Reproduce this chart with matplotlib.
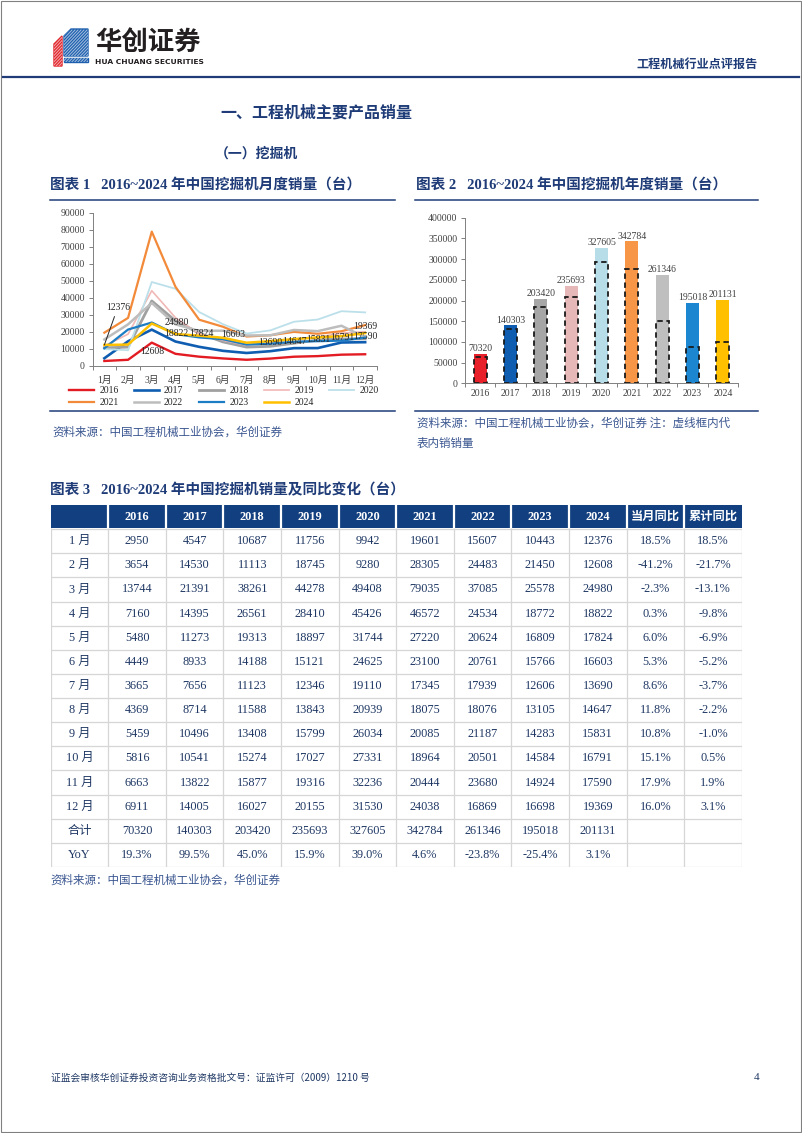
import matplotlib
matplotlib.use('Agg')
import matplotlib.pyplot as plt
from matplotlib.patches import Rectangle, Polygon
import numpy as np

SERIF = ['Liberation Serif', 'Noto Sans CJK SC']
CJK = ['Noto Sans CJK SC', 'DejaVu Sans']
NAVY = '#1F3C78'
TXT = '#1F3864'
SRC = '#3A5690'
HEAD = '#123F7F'

# ---------------- data ----------------
years = ['2016', '2017', '2018', '2019', '2020', '2021', '2022', '2023', '2024']
months = ['1月', '2月', '3月', '4月', '5月', '6月', '7月', '8月', '9月', '10月', '11月', '12月']

sales_2016 = [2950, 3654, 13744, 7160, 5480, 4449, 3665, 4369, 5459, 5816, 6663, 6911]
sales_2017 = [4547, 14530, 21391, 14395, 11273, 8933, 7656, 8714, 10496, 10541, 13822, 14005]
sales_2018 = [10687, 11113, 38261, 26561, 19313, 14188, 11123, 11588, 13408, 15274, 15877, 16027]
sales_2019 = [11756, 18745, 44278, 28410, 18897, 15121, 12346, 13843, 15799, 17027, 19316, 20155]
sales_2020 = [9942, 9280, 49408, 45426, 31744, 24625, 19110, 20939, 26034, 27331, 32236, 31530]
sales_2021 = [19601, 28305, 79035, 46572, 27220, 23100, 17345, 18075, 20085, 18964, 20444, 24038]
sales_2022 = [15607, 24483, 37085, 24534, 20624, 20761, 17939, 18076, 21187, 20501, 23680, 16869]
sales_2023 = [10443, 21450, 25578, 18772, 16809, 15766, 12606, 13105, 14283, 14584, 14924, 16698]
sales_2024 = [12376, 12608, 24980, 18822, 17824, 16603, 13690, 14647, 15831, 16791, 17590, 19369]
monthly = [sales_2016, sales_2017, sales_2018, sales_2019, sales_2020,
           sales_2021, sales_2022, sales_2023, sales_2024]

totals = [70320, 140303, 203420, 235693, 327605, 342784, 261346, 195018, 201131]
domestic = [62800, 132000, 185000, 209000, 292000, 275000, 150500, 88500, 99000]
yoy_year = [19.3, 99.5, 45.0, 15.9, 39.0, 4.6, -23.8, -25.4, 3.1]
yoy_month = [18.5, -41.2, -2.3, 0.3, 6.0, 5.3, 8.6, 11.8, 10.8, 15.1, 17.9, 16.0]
yoy_cum = [18.5, -21.7, -13.1, -9.8, -6.9, -5.2, -3.7, -2.2, -1.0, 0.5, 1.9, 3.1]

line_colors = ['#E31B23', '#0F5DB0', '#A0A0A0', '#F0B8B6', '#BCE0EA',
               '#F28A3A', '#BDBDBD', '#1C7CC4', '#FFC000']
line_widths = [1.7, 1.9, 2.0, 1.2, 1.3, 1.6, 1.8, 1.6, 1.8]
bar_colors = ['#E8202A', '#0F5DB0', '#A6A6A6', '#E6B9B8', '#B7DEE8',
              '#F79646', '#BFBFBF', '#1C86D1', '#FFC000']

# label offsets (px right, px up) and alignment for the 2024 monthly labels
label_style = [((14, 37), 'center'), ((24, -7), 'center'), ((25, 1), 'center'),
               ((1, 1), 'center'), ((2, 2), 'center'), ((10, 3), 'center'),
               ((12, 0), 'left'), ((12, 0), 'left'), ((12, 0), 'left'),
               ((12, 0), 'left'), ((12, 0), 'left'), ((0, 7), 'center')]

W, H = 802, 1133
fig = plt.figure(figsize=(W / 100, H / 100), dpi=100)


def rect(x0, y0, x1, y1):
    return [x0 / W, 1 - y1 / H, (x1 - x0) / W, (y1 - y0) / H]


page = fig.add_axes([0, 0, 1, 1])
page.set_xlim(0, W)
page.set_ylim(H, 0)
page.axis('off')

# page border
page.add_patch(Rectangle((0.5, 0.5), W - 1.5, H - 2, fill=False, edgecolor='#808080', lw=0.8))

# ---- logo ----
red = Polygon([(54, 44), (62, 36), (62, 66), (54, 66)], closed=True, color='#E0262C')
blue = Polygon([(64, 36), (71, 29), (88, 29), (88, 56), (64, 56)], closed=True, color='#1D5FAE')
blue2 = Polygon([(64, 58), (88, 58), (88, 62), (64, 62)], closed=True, color='#1D5FAE')
for p in (red, blue, blue2):
    page.add_patch(p)
    for k in range(-40, 40, 3):
        ln, = page.plot([54 + k, 88 + k], [66, 30], color='white', lw=0.7, alpha=0.6)
        ln.set_clip_path(p)
page.text(95, 42, '华创证券', fontsize=19, fontweight='bold', family=CJK, color='#231F20', va='center', ha='left')
page.text(95, 61.5, 'HUA CHUANG SECURITIES', fontsize=5.4, fontweight='bold', family='DejaVu Sans',
          color='#231F20', va='center', ha='left')

page.text(758, 64, '工程机械行业点评报告', fontsize=8.7, fontweight='bold', family=CJK, color=NAVY,
          va='center', ha='right')
page.plot([3, 799], [77, 77], color=NAVY, lw=1.6)

page.text(220, 113, '一、工程机械主要产品销量', fontsize=11.5, fontweight='bold', family=CJK, color=NAVY,
          va='center', ha='left')
page.text(215, 154, '（一）挖掘机', fontsize=10, fontweight='bold', family=CJK, color=NAVY,
          va='center', ha='left')

# chart titles and rules
page.text(50, 185, '图表 1   2016~2024 年中国挖掘机月度销量（台）', fontsize=10.5, fontweight='bold',
          family=SERIF, color=NAVY, va='center', ha='left')
page.text(416, 185, '图表 2   2016~2024 年中国挖掘机年度销量（台）', fontsize=10.5, fontweight='bold',
          family=SERIF, color=NAVY, va='center', ha='left')
for x0, x1 in [(50, 395), (415, 758)]:
    page.plot([x0, x1], [200, 200], color=NAVY, lw=1.1)
    page.plot([x0, x1], [410.5, 410.5], color=NAVY, lw=1.1)

page.text(52, 432, '资料来源：中国工程机械工业协会，华创证券', fontsize=8.3, family=CJK, color=SRC,
          va='center', ha='left')
page.text(417, 423, '资料来源：中国工程机械工业协会，华创证券 注：虚线框内代', fontsize=8.3, family=CJK,
          color=SRC, va='center', ha='left')
page.text(417, 443, '表内销销量', fontsize=8.3, family=CJK, color=SRC, va='center', ha='left')

page.text(50, 490, '图表 3   2016~2024 年中国挖掘机销量及同比变化（台）', fontsize=10.5, fontweight='bold',
          family=SERIF, color=NAVY, va='center', ha='left')
page.text(50, 880, '资料来源：中国工程机械工业协会，华创证券', fontsize=8.3, family=CJK, color=SRC,
          va='center', ha='left')

page.text(51, 1078, '证监会审核华创证券投资咨询业务资格批文号：证监许可（2009）1210 号', fontsize=7,
          family=CJK, color=TXT, va='center', ha='left')
page.text(757, 1078, '4', fontsize=8, family=SERIF, color=TXT, va='center', ha='center')

# ---------------- chart 1: monthly lines ----------------
ax1 = fig.add_axes(rect(92.5, 213, 377, 366))
x = np.arange(len(months))
handles = []
for yr, vals, c, lw in zip(years, monthly, line_colors, line_widths):
    h, = ax1.plot(x, vals, color=c, lw=lw, label=yr, solid_joinstyle='round')
    handles.append(h)
ax1.set_xlim(-0.5, 11.5)
ax1.set_ylim(0, 90000)
ax1.set_yticks(range(0, 90001, 10000))
ax1.set_xticks(x)
ax1.set_xticklabels(months)
ax1.set_xticks(np.arange(-0.5, 12, 1), minor=True)
ax1.tick_params(axis='x', which='major', length=0, pad=7)
ax1.tick_params(axis='x', which='minor', length=3, direction='out', color='#808080', width=0.7)
ax1.tick_params(axis='y', length=3, direction='out', pad=2.5, color='#808080', width=0.7)
for lab in ax1.get_xticklabels() + ax1.get_yticklabels():
    lab.set_family(SERIF)
    lab.set_fontsize(7)
    lab.set_color('#404040')
for s in ['top', 'right']:
    ax1.spines[s].set_visible(False)
for s in ['left', 'bottom']:
    ax1.spines[s].set_color('#808080')
    ax1.spines[s].set_linewidth(0.7)

for i, (v, ((dx, dy), ha)) in enumerate(zip(sales_2024, label_style)):
    if i == 0:
        ax1.annotate(str(v), (i, v), xytext=(dx * 0.72, dy * 0.72), textcoords='offset points',
                     ha='center', va='center', fontsize=7, family=SERIF, color='#262626',
                     arrowprops=dict(arrowstyle='-', color='#262626', lw=0.7, shrinkA=1, shrinkB=0,
                                     relpos=(0.4, 0.0)))
    else:
        ax1.annotate(str(v), (i, v), xytext=(dx * 0.72, dy * 0.72), textcoords='offset points',
                     ha=ha, va='center', fontsize=7, family=SERIF, color='#262626')

order = [0, 5, 1, 6, 2, 7, 3, 8, 4]
leg = fig.legend([handles[k] for k in order], [years[k] for k in order], ncol=5,
                 loc='upper left', bbox_to_anchor=(69 / W, 1 - 386 / H), frameon=False,
                 prop={'family': SERIF, 'size': 7}, handlelength=2.6, handletextpad=0.5,
                 columnspacing=1.6, labelspacing=0.3, borderpad=0, borderaxespad=0)
for t in leg.get_texts():
    t.set_color('#262626')

# ---------------- chart 2: yearly bars ----------------
ax2 = fig.add_axes(rect(465, 217.7, 738, 383.3))
xb = np.arange(len(years))
ax2.bar(xb, totals, width=0.42, color=bar_colors, zorder=2)
ax2.bar(xb, domestic, width=0.42, fill=False, edgecolor='#1a1a1a', linestyle=(0, (3, 2)),
        linewidth=1.3, zorder=3)
for xi, v in zip(xb, totals):
    ax2.annotate(str(v), (xi, v), xytext=(0, 0.5), textcoords='offset points', ha='center',
                 va='bottom', fontsize=7, family=SERIF, color='#404040')
ax2.set_xlim(-0.5, 8.5)
ax2.set_ylim(0, 400000)
ax2.set_yticks(range(0, 400001, 50000))
ax2.set_xticks(xb)
ax2.set_xticklabels(years)
ax2.set_xticks(np.arange(-0.5, 9, 1), minor=True)
ax2.tick_params(axis='x', which='major', length=0, pad=4)
ax2.tick_params(axis='x', which='minor', length=3, direction='out', color='#808080', width=0.7)
ax2.tick_params(axis='y', length=3, direction='out', pad=2.5, color='#808080', width=0.7)
for lab in ax2.get_xticklabels() + ax2.get_yticklabels():
    lab.set_family(SERIF)
    lab.set_fontsize(7)
    lab.set_color('#404040')
for s in ['top', 'right']:
    ax2.spines[s].set_visible(False)
for s in ['left', 'bottom']:
    ax2.spines[s].set_color('#808080')
    ax2.spines[s].set_linewidth(0.7)

# ---------------- table ----------------
header = [''] + years + ['当月同比', '累计同比']
rows = []
for m in range(12):
    rows.append([f'{m + 1} 月'] + [str(monthly[k][m]) for k in range(len(years))]
                + [f'{yoy_month[m]:.1f}%', f'{yoy_cum[m]:.1f}%'])
rows.append(['合计'] + [str(v) for v in totals] + ['', ''])
rows.append(['YoY'] + [f'{v:.1f}%' for v in yoy_year] + ['', ''])

ncol = len(header)
nrow = len(rows) + 1
tab = fig.add_axes(rect(50.7, 505, 741.7, 867))
tab.set_xlim(0, ncol)
tab.set_ylim(nrow, 0)
tab.axis('off')
tab.add_patch(Rectangle((0, 0), ncol, 0.95, color=HEAD, lw=0))
tab.vlines(np.arange(1, ncol), 0, 0.95, color='white', lw=1.6)
tab.hlines(np.arange(1, nrow + 1), 0, ncol, color='#D6D6D6', lw=0.9)
tab.vlines(np.arange(0, ncol + 1), 0.95, nrow, color='#D6D6D6', lw=0.9)
for c, s in enumerate(header):
    tab.text(c + 0.5, 0.5, s, ha='center', va='center', fontsize=8.8, fontweight='bold',
             family=SERIF, color='white')
for r, row in enumerate(rows):
    for c, s in enumerate(row):
        tab.text(c + 0.5, r + 1.5, s, ha='center', va='center', fontsize=8.8,
                 family=SERIF, color=TXT)

fig.savefig('out.png', dpi=100)
